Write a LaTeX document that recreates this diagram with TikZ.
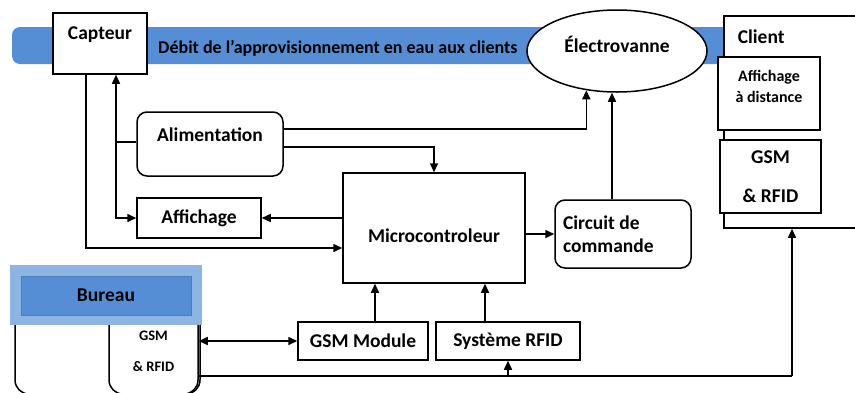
\documentclass[tikz,border=0pt]{standalone}
\usepackage{fontspec}
\setmainfont{Carlito}
\usetikzlibrary{arrows.meta,shapes.geometric}

\definecolor{bleubande}{RGB}{85,142,213}
\definecolor{bleuclair}{RGB}{142,180,227}
\definecolor{bleubord}{RGB}{74,126,187}

\tikzset{
    bloc/.style={draw, line width=1.5pt, fill=white, rectangle, inner sep=0pt},
    blocrond/.style={bloc, rounded corners=10pt},
    txt/.style={font=\bfseries\fontsize{19.5}{23}\selectfont},
    petit/.style={font=\bfseries\fontsize{16}{19}\selectfont},
    fleche/.style={line width=1.5pt, ->},
    trait/.style={line width=1.5pt},
}

\begin{document}
\begin{tikzpicture}[x=1pt, y=-1pt, >={Triangle[length=9pt,width=8pt]}]

    \useasboundingbox (0,0) rectangle (855,392);

    % Dessiner la bande du débit
    \fill[bleubande, rounded corners=8pt] (12,27) rectangle (740,64);
    \node[font=\bfseries\fontsize{18}{21}\selectfont, anchor=west, inner sep=0pt] (debit) at (158,48) {Débit de l’approvisionnement en eau aux clients};

    % Dessiner le capteur et l'électrovanne
    \node[bloc, minimum width=94pt, minimum height=61pt,
          label={[txt, anchor=north, yshift=-11pt]north:Capteur}] (capteur) at (100,43.5) {};
    \node[bloc, ellipse, txt, minimum width=180pt, minimum height=82pt, text depth=14pt] (electro) at (617,51) {Électrovanne};

    % Dessiner le client
    \node[bloc, minimum width=146pt, minimum height=212pt,
          label={[txt, anchor=north west, xshift=11pt, yshift=-11pt]north west:Client}] (client) at (797,122) {};
    \node[bloc, petit, minimum width=102pt, minimum height=73pt, align=center, text depth=15pt] (affdist) at (769,93.5) {Affichage\\[2pt]à distance};
    \node[bloc, txt, minimum width=101pt, minimum height=73pt, align=center] (gsmcli) at (770.5,176.5) {GSM\\[16pt]\& RFID};

    % Dessiner les blocs du milieu
    \node[blocrond, minimum width=146pt, minimum height=64pt,
          label={[txt, anchor=north, yshift=-13pt]north:Alimentation}] (alim) at (210,144) {};
    \node[bloc, txt, minimum width=124pt, minimum height=40pt] (affichage) at (199,218) {Affichage};
    \node[bloc, txt, minimum width=182pt, minimum height=110pt, text height=30pt] (micro) at (434,228) {Microcontroleur};
    \node[blocrond, txt, minimum width=136pt, minimum height=68pt, text width=120pt, align=flush left] (circuit) at (623,234) {Circuit de\\commande};

    % Dessiner le bureau
    \node[blocrond, rounded corners=14pt, minimum width=185pt, minimum height=94pt] (boite) at (107.5,347) {};
    \node[blocrond, rounded corners=14pt, minimum width=89pt, minimum height=94pt,
          label={[font=\bfseries\fontsize{14.5}{17}\selectfont, align=center, yshift=-4pt]center:GSM\\[14pt]\& RFID}] (gsmbur) at (153.5,347) {};
    \fill[bleuclair] (10,265) rectangle (202,325);
    \node[draw=bleubord, fill=bleubande, txt, minimum width=170pt, minimum height=39pt] (bureau) at (106,295.5) {Bureau};

    % Dessiner les modules du bas
    \node[bloc, txt, minimum width=130pt, minimum height=38pt] (gsmmod) at (363,341) {GSM Module};
    \node[bloc, txt, minimum width=144pt, minimum height=38pt] (rfid) at (508,341) {Système RFID};

    % Relier le capteur au microcontroleur
    \draw[fleche] ([xshift=-14pt]capteur.south) |- ([yshift=-20pt]micro.west);

    % Relier l'alimentation
    \coordinate (bif) at (116,142);
    \draw[trait] (alim.west |- bif) -- (bif);
    \draw[fleche] (bif) -- (bif |- capteur.south);
    \draw[fleche] (bif) |- (affichage.west);
    \draw[fleche] ([yshift=15pt]alim.east) -| (electro.232);
    \draw[fleche] ([yshift=-3pt]alim.east) -| (micro.north);

    % Relier le microcontroleur
    \draw[fleche] (micro.west |- affichage.east) -- (affichage.east);
    \draw[fleche] (micro.east |- circuit.west) -- (circuit.west);
    \draw[fleche] ([xshift=-11pt]circuit.north) -- ([xshift=-11pt]circuit.north |- electro.south);
    \draw[fleche] ([xshift=12pt]gsmmod.north) -- ([xshift=12pt]gsmmod.north |- micro.south);
    \draw[fleche] ([xshift=-23pt]rfid.north) -- ([xshift=-23pt]rfid.north |- micro.south);

    % Relier le bureau aux modules et au client
    \draw[fleche, <->] (gsmbur.east |- gsmmod.west) -- (gsmmod.west);
    \coordinate (coin) at (792,376);
    \draw[trait] ([yshift=-29pt]gsmbur.east) -- (coin);
    \draw[fleche] (coin) -- (coin |- client.south);
    \draw[fleche] (rfid.south |- coin) -- (rfid.south);

\end{tikzpicture}
\end{document}
